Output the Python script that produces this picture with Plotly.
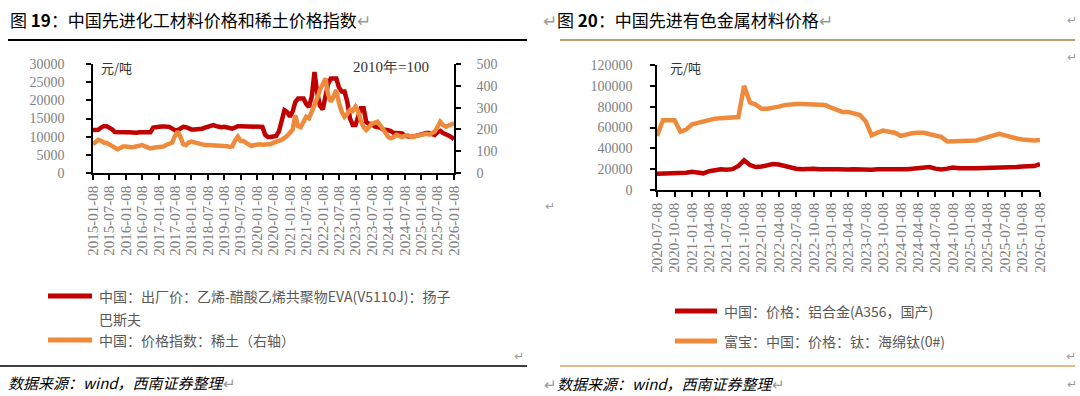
import plotly.graph_objects as go
import pandas as pd

# ---------------- data ----------------
left_dates = pd.date_range("2015-01-01", "2026-01-01", freq="MS") + pd.Timedelta(days=7)
right_dates = pd.date_range("2020-07-01", "2026-01-01", freq="MS") + pd.Timedelta(days=7)

eva_price = [
    11800, 11800, 11900, 12500, 12900, 12900, 12600, 12000, 11300, 11200, 11200, 11200,
    11200, 11200, 11100, 11100, 11100, 11200, 11200, 11100, 11100, 11200, 12500, 12700,
    12700, 12800, 12800, 12900, 12700, 12200, 11800, 11800, 12300, 12700, 12600, 12200,
    12000, 12000, 12000, 12100, 12200, 12500, 12800, 13000, 13200, 12900, 12700, 12600,
    12700, 12700, 12400, 12200, 12600, 12900, 12900, 12900, 12900, 12900, 12800, 12800,
    12800, 12800, 12700, 10500, 9900, 9900, 10000, 10200, 11500, 14000, 17300, 16800,
    15500, 17000, 19500, 20500, 20500, 20500, 19000, 18200, 21000, 27800, 22000, 18500,
    17500, 21000, 24500, 26000, 26000, 26000, 23500, 22400, 22400, 19600, 15000, 13200,
    13200, 15500, 17800, 17800, 14000, 13500, 13500, 12800, 12700, 12500, 12000, 12000,
    11800, 11500, 11000, 11000, 10900, 10900, 10300, 10000, 10000, 10000, 10200, 10500,
    10900, 11000, 11000, 11000, 10800, 10500, 11200, 11600, 11000, 10500, 10300, 9900,
    9300,
]
rare_earth_index = [
    132, 145, 152, 148, 140, 138, 130, 120, 112, 109, 115, 121,
    121, 118, 118, 119, 121, 124, 128, 122, 116, 113, 116, 118,
    120, 121, 122, 130, 136, 140, 170, 190, 165, 132, 128, 140,
    144, 140, 136, 133, 130, 128, 128, 128, 128, 127, 126, 125,
    124, 123, 121, 122, 150, 167, 148, 147, 138, 130, 124, 128,
    132, 132, 130, 130, 132, 133, 138, 145, 148, 152, 160, 170,
    185, 200, 265, 215, 210, 240, 258, 251, 280, 320, 343, 380,
    410, 434, 360, 327, 350, 381, 320, 280, 258, 270, 290, 285,
    304, 280, 240, 210, 197, 215, 225, 230, 235, 220, 205, 185,
    165, 159, 165, 175, 170, 165, 170, 174, 168, 165, 170, 172,
    175, 178, 180, 176, 182, 190, 210, 235, 220, 212, 218, 222,
    228,
]
al_alloy_price = [
    15500, 15500, 15500, 15800, 16000, 16500,
    17500, 16500, 16000, 18000, 19500, 20000, 19500, 20000, 23000, 28500, 24000, 22000,
    22500, 24000, 25000, 24500, 23000, 21500, 20500, 20000, 20500, 20500, 20000, 20500,
    20000, 20000, 19500, 19800, 20000, 19500, 19500, 19500, 20000, 20500, 20000, 20000,
    19800, 20000, 20500, 21000, 21500, 22000, 20500, 19800, 20500, 21500, 21000, 20500,
    20800, 21000, 21000, 21200, 21000, 21500, 21500, 22000, 22000, 22500, 23000, 23000,
    24800,
]
ti_sponge_price = [
    52000, 67000, 67000, 67000, 56000, 58000,
    63000, 64500, 66500, 67500, 68500, 69000, 69500, 70000, 70000, 100000, 84000, 82000,
    78000, 78000, 78500, 80000, 81500, 82500, 82500, 82500, 82500, 82000, 81500, 81500,
    79000, 77000, 75000, 75000, 74000, 72000, 66000, 52500, 55000, 57000, 56000, 55000,
    52000, 53500, 54500, 55000, 55000, 53500, 52000, 51000, 46500, 46500, 46500, 47000,
    47000, 47500, 49000, 50500, 52000, 54000, 52500, 50500, 49500, 48500, 47500, 47500,
    48000,
]

left_ticks = pd.date_range("2015-01-01", "2026-01-01", freq="6MS") + pd.Timedelta(days=7)
right_ticks = pd.date_range("2020-07-01", "2026-01-01", freq="3MS") + pd.Timedelta(days=7)
left_ticktext = [d.strftime("%Y-%m-%d") for d in left_ticks]
right_ticktext = [d.strftime("%Y-%m-%d") for d in right_ticks]

legend_eva = ["中国：出厂价：乙烯-醋酸乙烯共聚物EVA(V5110J)：扬子", "巴斯夫"]
legend_re = "中国：价格指数：稀土（右轴）"
legend_al = "中国：价格：铝合金(A356，国产)"
legend_ti = "富宝：中国：价格：钛：海绵钛(0#)"

RED = "#C00000"
ORANGE = "#EE8A3C"

W, H = 1080, 396
def px(x):
    return x / W
def py(y):
    return 1 - y / H

fig = go.Figure()
fig.add_trace(go.Scatter(x=left_dates, y=eva_price, name="".join(legend_eva), mode="lines",
                         line=dict(color=RED, width=4.5), xaxis="x", yaxis="y"))
fig.add_trace(go.Scatter(x=left_dates, y=rare_earth_index, name=legend_re, mode="lines",
                         line=dict(color=ORANGE, width=4.5), xaxis="x", yaxis="y2"))
fig.add_trace(go.Scatter(x=right_dates, y=al_alloy_price, name=legend_al, mode="lines",
                         line=dict(color=RED, width=4.5), xaxis="x2", yaxis="y3"))
fig.add_trace(go.Scatter(x=right_dates, y=ti_sponge_price, name=legend_ti, mode="lines",
                         line=dict(color=ORANGE, width=4.5), xaxis="x2", yaxis="y3"))

TICKFONT = dict(family="Liberation Serif", size=15, color="#7f7f7f")
YFONT = dict(family="Liberation Serif", size=14, color="#7f7f7f")
common_x = dict(showgrid=False, zeroline=False, showline=True, linecolor="#000", linewidth=1.5,
                ticks="outside", ticklen=5, tickcolor="#000", tickwidth=1.5, automargin=False,
                tickangle=-90, tickfont=TICKFONT, tickmode="array")
common_y = dict(showgrid=False, zeroline=False, showline=True, linecolor="#000", linewidth=1.5,
                ticks="outside", ticklen=5, tickcolor="#000", tickwidth=1.5, automargin=False,
                tickfont=YFONT, tickformat="d")

fig.update_layout(
    width=W, height=H, margin=dict(l=0, r=0, t=0, b=0, autoexpand=False),
    paper_bgcolor="white", plot_bgcolor="white", showlegend=False,
    xaxis=dict(domain=[px(93), px(454)], anchor="y",
               range=[left_dates[0], left_dates[-1]],
               tickvals=list(left_ticks), ticktext=left_ticktext, **common_x),
    yaxis=dict(domain=[py(173), py(64)], anchor="x", range=[0, 30000], dtick=5000,
               ticklabelstandoff=19, **common_y),
    yaxis2=dict(overlaying="y", side="right", anchor="x", range=[0, 500], dtick=100,
                ticklabelstandoff=13, **common_y),
    xaxis2=dict(domain=[px(657), px(1040)], anchor="y3",
                range=[right_dates[0], right_dates[-1]],
                tickvals=list(right_ticks), ticktext=right_ticktext, **common_x),
    yaxis3=dict(domain=[py(190), py(65)], anchor="x2", range=[0, 120000], dtick=20000,
                ticklabelstandoff=15, **common_y),
)

GRAY = "#9a9a9a"
CJK = "Noto Sans CJK SC"
ann = []
def add_text(x, y, text, size=14, color="#000", anchor="left", family=CJK):
    ann.append(dict(x=px(x), y=py(y), xref="paper", yref="paper", text=text, showarrow=False,
                    xanchor=anchor, yanchor="middle", font=dict(family=family, size=size, color=color)))

add_text(8, 20, '图 <b>19</b>：中国先进化工材料价格和稀土价格指数<span style="color:#9a9a9a">↵</span>', size=17)
add_text(541, 20, '<span style="color:#9a9a9a">↵</span>图 <b>20</b>：中国先进有色金属材料价格<span style="color:#9a9a9a">↵</span>', size=17)
add_text(6, 382, '<i>数据来源：wind，西南证券整理</i><span style="color:#9a9a9a">↵</span>', size=15)
add_text(542, 383, '<span style="color:#9a9a9a">↵</span><i>数据来源：wind，西南证券整理</i><span style="color:#9a9a9a">↵</span>', size=15)
add_text(99, 67, "元/吨", size=13, color="#333")
add_text(351, 67, "2010年=100", size=15, color="#333", family="Liberation Serif")
add_text(668, 67, "元/吨", size=13, color="#333")
add_text(512, 356, "↵", size=12, color=GRAY, family="DejaVu Sans")
add_text(1064, 356, "↵", size=12, color=GRAY, family="DejaVu Sans")
add_text(543, 206, "↵", size=12, color=GRAY, family="DejaVu Sans")
add_text(1079, 57, "↵", size=12, color=GRAY, family="DejaVu Sans", anchor="right")
add_text(1079, 20, "↵", size=12, color=GRAY, family="DejaVu Sans", anchor="right")
add_text(1079, 384, "↵", size=12, color=GRAY, family="DejaVu Sans", anchor="right")

# legends (drawn as line samples + labels)
LEGC = "#595959"
add_text(97, 296, legend_eva[0], size=14, color=LEGC)
add_text(97, 319, legend_eva[1], size=14, color=LEGC)
add_text(97, 340, legend_re, size=14, color=LEGC)
add_text(722, 311, legend_al, size=14, color=LEGC)
add_text(722, 341, legend_ti, size=14, color=LEGC)

def hline(x0, x1, y, color, width):
    return dict(type="line", xref="paper", yref="paper", x0=px(x0), x1=px(x1), y0=py(y), y1=py(y),
                line=dict(color=color, width=width))

shapes = [
    hline(8, 527, 40, "#000", 2),
    hline(0, 527, 366, "#000", 1.5),
    hline(560, 1075, 40, "#BFA26A", 2),
    hline(560, 1075, 366, "#D9A560", 1.5),
    hline(48, 92, 296, RED, 5),
    hline(48, 92, 340, ORANGE, 5),
    hline(675, 717, 311, RED, 5),
    hline(675, 717, 341, ORANGE, 5),
]
fig.update_layout(annotations=ann, shapes=shapes)

fig.write_html("out.html", config={"displayModeBar": False},
               post_script="document.body.style.margin='0';document.body.style.overflow='hidden';")
